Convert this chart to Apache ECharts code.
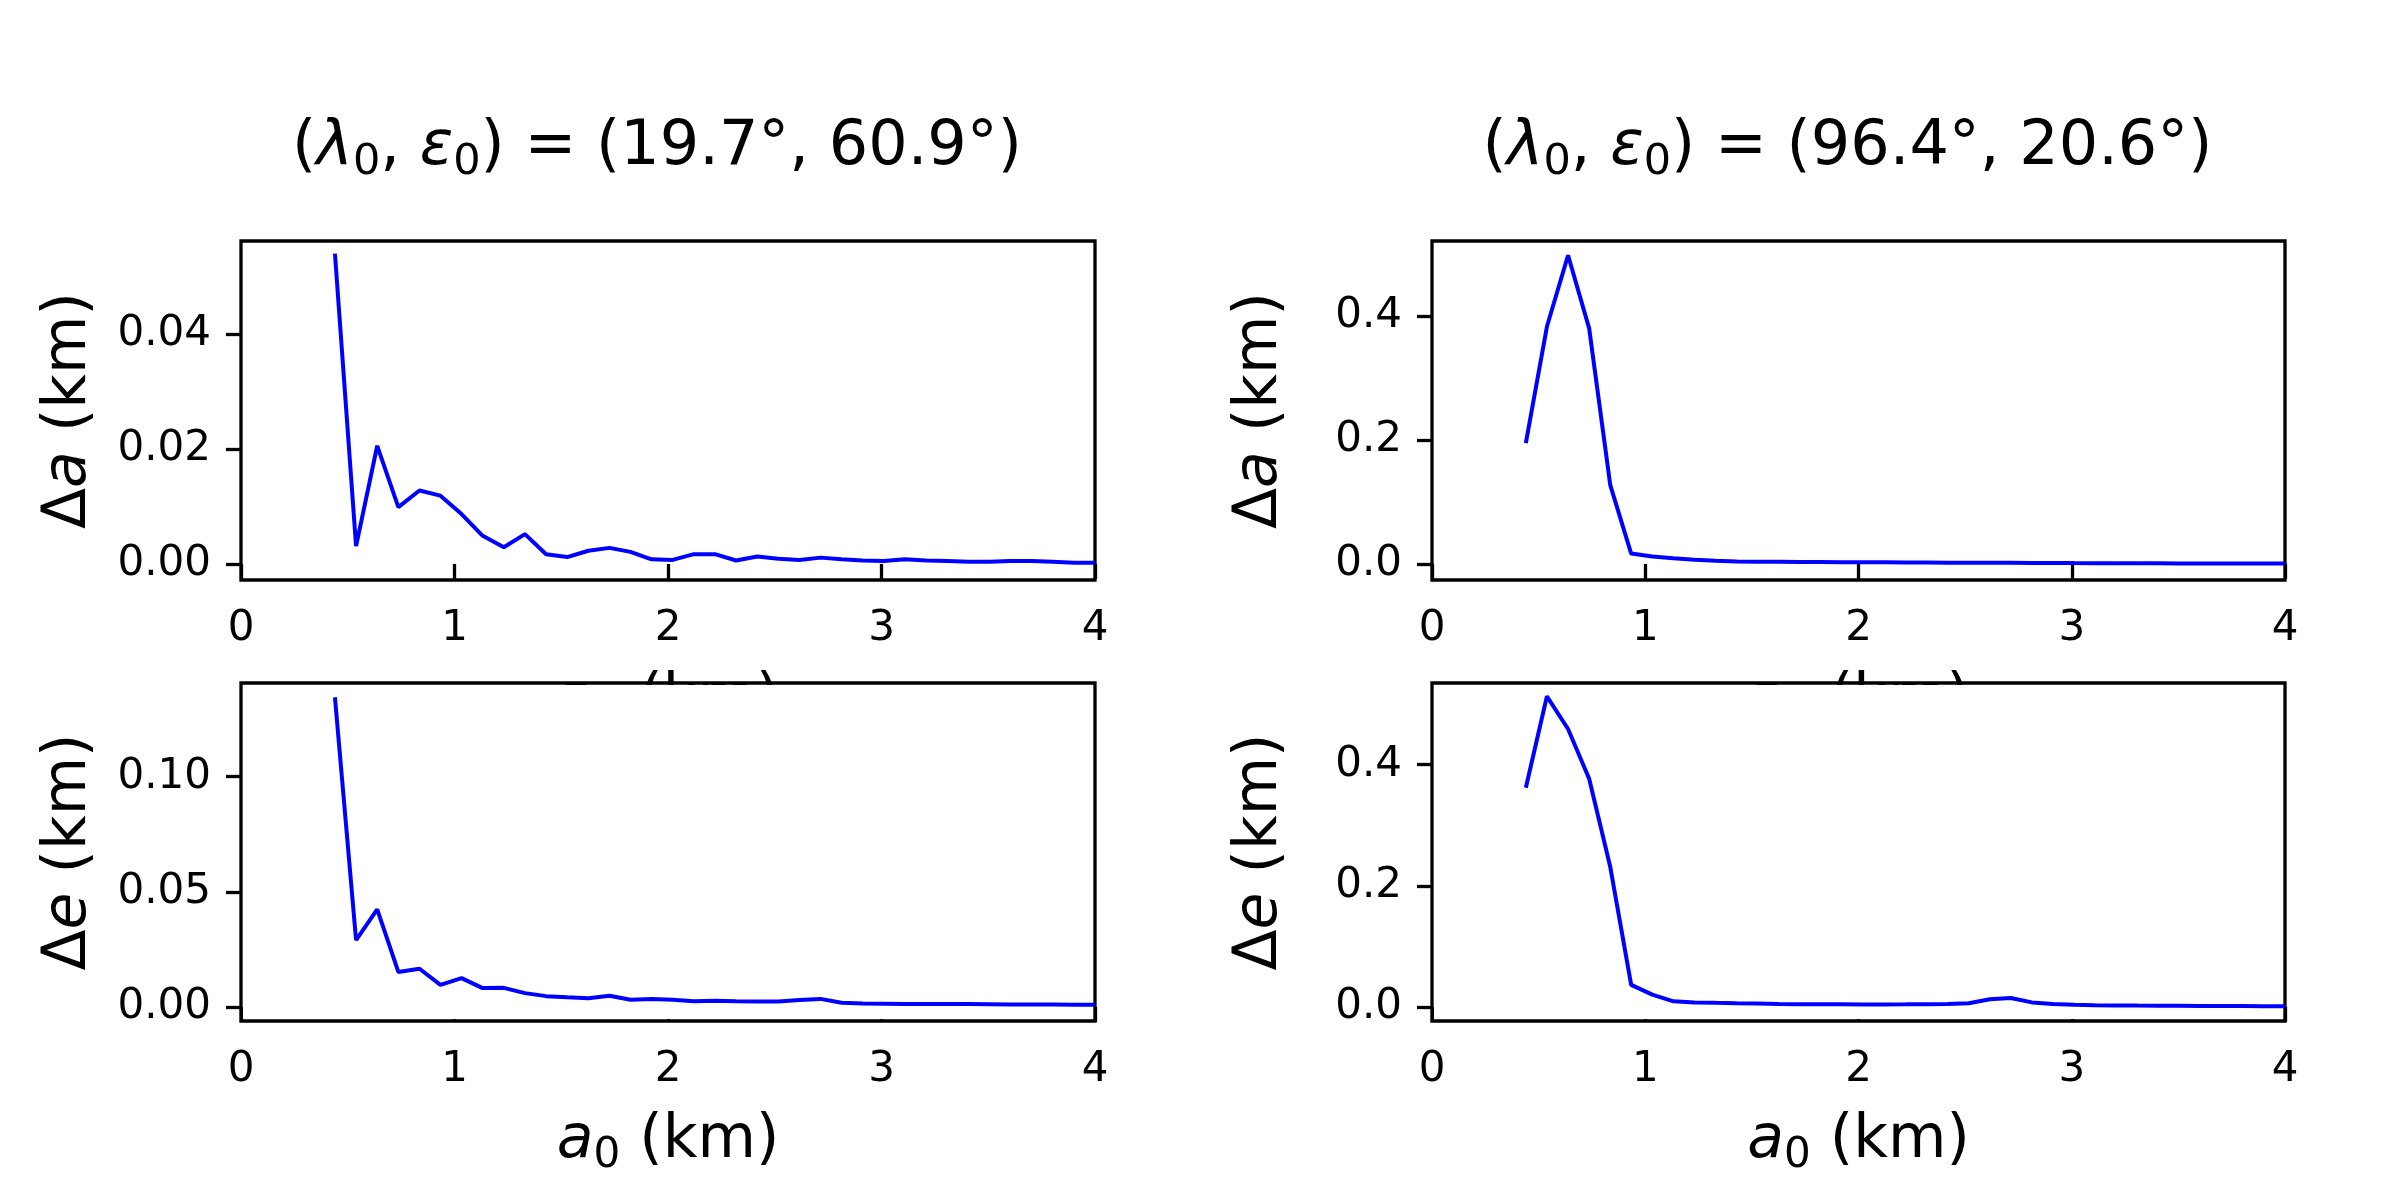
<!DOCTYPE html>
<html>
<head>
<meta charset="utf-8">
<script src="https://cdn.jsdelivr.net/npm/echarts@6/dist/echarts.min.js"></script>
<style>
  html, body { margin: 0; padding: 0; background: #fff; }
  #main { width: 2400px; height: 1200px; }
</style>
</head>
<body>
<div id="main"></div>
<script>
// a0 sample points (km)
var a0 = [0.440, 0.539, 0.638, 0.737, 0.836, 0.934, 1.033, 1.132, 1.231, 1.330,
          1.429, 1.528, 1.627, 1.726, 1.824, 1.923, 2.022, 2.121, 2.220, 2.319,
          2.418, 2.517, 2.616, 2.714, 2.813, 2.912, 3.011, 3.110, 3.209, 3.308,
          3.407, 3.506, 3.604, 3.703, 3.802, 3.901, 4.000];

// Δa, (λ0, ε0) = (19.7°, 60.9°)
var daLeft = [0.0541, 0.0031, 0.0206, 0.0099, 0.0128, 0.0119, 0.0087, 0.0049, 0.0029, 0.0052,
              0.0017, 0.0012, 0.0023, 0.0028, 0.0021, 0.0008, 0.0007, 0.0017, 0.0017, 0.0006,
              0.0013, 0.0009, 0.0007, 0.0011, 0.0008, 0.0006, 0.0005, 0.0008, 0.0006, 0.0005,
              0.0004, 0.0004, 0.0005, 0.0005, 0.0004, 0.0002, 0.0002];
// Δa, (λ0, ε0) = (96.4°, 20.6°)
var daRight = [0.195, 0.383, 0.498, 0.380, 0.127, 0.0166, 0.0118, 0.0092, 0.0068, 0.0052,
               0.0038, 0.0036, 0.0034, 0.0032, 0.0030, 0.0028, 0.0027, 0.0025, 0.0023, 0.0022,
               0.0020, 0.0019, 0.0018, 0.0017, 0.0016, 0.0015, 0.0013, 0.0012, 0.0011, 0.0010,
               0.0009, 0.0008, 0.0008, 0.0007, 0.0006, 0.0006, 0.0005];
// Δe, (λ0, ε0) = (19.7°, 60.9°)
var deLeft = [0.1345, 0.0290, 0.0424, 0.0152, 0.0166, 0.0096, 0.0125, 0.0082, 0.0083, 0.0060,
              0.0047, 0.0042, 0.0038, 0.0049, 0.0031, 0.0035, 0.0031, 0.0025, 0.0027, 0.0025,
              0.0024, 0.0024, 0.0030, 0.0035, 0.0018, 0.0015, 0.0014, 0.0013, 0.0013, 0.0013,
              0.0013, 0.0012, 0.0011, 0.0011, 0.0011, 0.0010, 0.0010];
// Δe, (λ0, ε0) = (96.4°, 20.6°)
var deRight = [0.362, 0.513, 0.459, 0.377, 0.231, 0.0365, 0.0203, 0.0093, 0.0075, 0.0068,
               0.0062, 0.0057, 0.0050, 0.0046, 0.0044, 0.0043, 0.0042, 0.0042, 0.0043, 0.0045,
               0.0050, 0.0062, 0.0128, 0.0148, 0.0075, 0.0047, 0.0036, 0.0030, 0.0026, 0.0022,
               0.0020, 0.0018, 0.0016, 0.0015, 0.0014, 0.0013, 0.0012];

var xTicks = [0, 1, 2, 3, 4];
var yTicksA = [[0, 0.02, 0.04], [0, 0.2, 0.4]];
var yTicksE = [[0, 0.05, 0.10], [0, 0.2, 0.4]];
var titles = ['({i|λ}{s|0}, {i|ε}{s|0}) = (19.7°, 60.9°)',
              '({i|λ}{s|0}, {i|ε}{s|0}) = (96.4°, 20.6°)'];

var FONT = 'DejaVu Sans';
var rich = {
    i: { fontStyle: 'italic', fontSize: 60, lineHeight: 60, fontFamily: FONT, color: '#000' },
    // subscript: top padding pushes the small digit below the baseline
    s: { fontSize: 42, lineHeight: 20, padding: [30, 0, 0, 0], fontFamily: FONT, color: '#000' }
};
var richTitle = {
    i: { fontStyle: 'italic', fontSize: 62, lineHeight: 62, fontFamily: FONT, color: '#000' },
    s: { fontSize: 43, lineHeight: 20, padding: [30, 0, 0, 0], fontFamily: FONT, color: '#000' }
};

var boxes = [
    { left: 241, top: 241, width: 854, height: 339 },
    { left: 1432, top: 241, width: 853, height: 339 },
    { left: 241, top: 683, width: 854, height: 338 },
    { left: 1432, top: 683, width: 853, height: 338 }
];
var yRange = [[-0.0028, 0.0563], [-0.026, 0.521], [-0.0061, 0.1407], [-0.0232, 0.535]];
var yTicks = [yTicksA[0], yTicksA[1], yTicksE[0], yTicksE[1]];
var yDec = [2, 1, 2, 1];
var yNames = ['Δ{i|a} (km)', 'Δ{i|a} (km)', 'Δ{i|e} (km)', 'Δ{i|e} (km)'];
var series = [daLeft, daRight, deLeft, deRight];

function pairs(xs, ys) {
    return xs.map(function (x, i) { return [x, ys[i]]; });
}

var grid = [], xAxis = [], yAxis = [], ser = [], graphic = [], title = [];

for (var k = 0; k < 4; k++) {
    var b = boxes[k];
    grid.push({
        left: b.left, top: b.top, width: b.width, height: b.height,
        show: true, borderColor: '#000', borderWidth: 3.3, backgroundColor: 'transparent'
    });
    xAxis.push({
        type: 'value', gridIndex: k, min: 0, max: 4, interval: 1,
        name: '{i|a}{s|0} (km)', nameLocation: 'middle', nameGap: 90,
        nameTextStyle: { fontSize: 60, lineHeight: 60, fontFamily: FONT, color: '#000', rich: rich },
        axisLine: { show: false },
        axisTick: { show: true, inside: false, length: 15, lineStyle: { color: '#000', width: 3.3 } },
        axisLabel: { fontSize: 42, fontFamily: FONT, color: '#000', margin: 28 },
        splitLine: { show: false }
    });
    (function (k) {
        yAxis.push({
            type: 'value', gridIndex: k, min: yRange[k][0], max: yRange[k][1],
            name: yNames[k], nameLocation: 'middle', nameGap: 142, nameRotate: 90,
            nameTextStyle: { fontSize: 60, lineHeight: 60, fontFamily: FONT, color: '#000', rich: rich },
            axisLine: { show: false },
            axisTick: { show: true, inside: false, length: 15, customValues: yTicks[k],
                        lineStyle: { color: '#000', width: 3.3 } },
            axisLabel: { fontSize: 42, fontFamily: FONT, color: '#000', margin: 30,
                         customValues: yTicks[k],
                         formatter: function (v) { return v.toFixed(yDec[k]); } },
            splitLine: { show: false }
        });
    })(k);
    ser.push({
        type: 'line', xAxisIndex: k, yAxisIndex: k, data: pairs(a0, series[k]),
        showSymbol: false, symbol: 'none', clip: true, z: 3,
        lineStyle: { color: '#0000ff', width: 4 }
    });
}

// lower axes are opaque and hide the upper x labels, as in the source figure
[2, 3].forEach(function (k) {
    var b = boxes[k];
    graphic.push({
        type: 'rect', z: 1, silent: true,
        shape: { x: b.left + 2, y: b.top + 2, width: b.width - 4, height: b.height - 4 },
        style: { fill: '#fff' }
    });
});

[0, 1].forEach(function (k) {
    var b = boxes[k];
    title.push({
        text: titles[k], left: b.left + b.width / 2 - 16, top: 112, textAlign: 'center',
        textStyle: { fontSize: 62, lineHeight: 62, fontWeight: 'normal', fontFamily: FONT,
                     color: '#000', rich: richTitle }
    });
});

var chart = echarts.init(document.getElementById('main'));
chart.setOption({
    backgroundColor: '#fff',
    animation: false,
    title: title,
    grid: grid,
    xAxis: xAxis,
    yAxis: yAxis,
    series: ser,
    graphic: graphic
});
</script>
</body>
</html>
